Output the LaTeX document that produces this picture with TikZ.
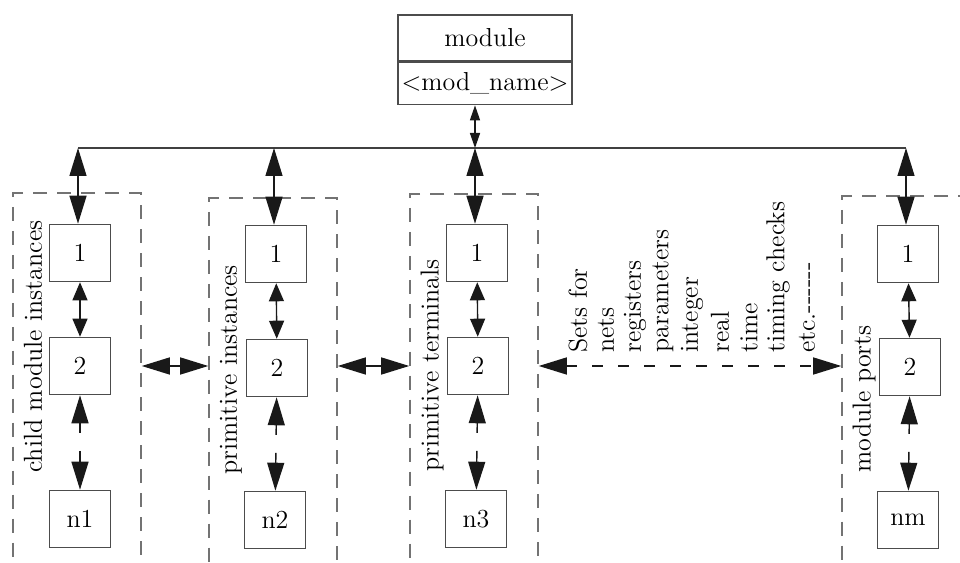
\documentclass[tikz,border=0pt]{standalone}
\usepackage{tikz}
\usetikzlibrary{arrows.meta,positioning}

\begin{document}
\begin{tikzpicture}[x=0.02cm, y=-0.02cm,
    every node/.style={font=\fontsize{14.8}{18}\selectfont},
    cell/.style={draw=black!70, line width=0.9pt, minimum width=1.22cm, minimum height=1.14cm, inner sep=0pt},
    modbox/.style={draw=black!70, line width=0.9pt, minimum width=3.48cm, inner sep=0pt},
    setbox/.style={draw=black!55, line width=0.9pt, dash pattern=on 0.28cm off 0.2cm,
                   minimum width=2.56cm, minimum height=9cm, anchor=north, inner sep=0pt},
    lbl/.style={rotate=90, anchor=west, inner sep=0pt},
    link/.style={draw=black!90, line width=0.8pt},
    bigarr/.style={link, arrows={Triangle[length=0.56cm,width=0.34cm]-Triangle[length=0.56cm,width=0.34cm]}},
    smallarr/.style={link, arrows={Triangle[length=0.36cm,width=0.3cm]-Triangle[length=0.36cm,width=0.3cm]}},
    tinyarr/.style={link, arrows={Triangle[length=0.3cm,width=0.2cm]-Triangle[length=0.3cm,width=0.2cm]}},
    gaparr/.style={bigarr, dash pattern=on 0.2cm off 0.36cm on 2cm}
]
    \useasboundingbox (0,0) rectangle (960,563);
    \clip (0,0) rectangle (960,563);

    \node[modbox, minimum height=0.92cm] (modtop) at (485,38) {module};
    \node[modbox, minimum height=0.84cm, below=0pt of modtop] (modname) {\textless mod\_name\textgreater};

    \node[setbox] (grp1) at (77,192) {};
    \node[setbox] (grp2) at (273,197) {};
    \node[setbox] (grp3) at (474,193) {};
    \node[setbox] (grp4) at (906,195) {};

    \node[cell] (c1a) at (80,253) {1};
    \node[cell] (c1b) at (80,366) {2};
    \node[cell] (c1n) at (80,519) {n1};
    \node[cell] (c2a) at (276,254) {1};
    \node[cell] (c2b) at (277,368) {2};
    \node[cell] (c2n) at (275,520) {n2};
    \node[cell] (c3a) at (477,253) {1};
    \node[cell] (c3b) at (478,366) {2};
    \node[cell] (c3n) at (476,519) {n3};
    \node[cell] (c4a) at (908,254) {1};
    \node[cell] (c4b) at (910,367) {2};
    \node[cell] (c4n) at (908,520) {nm};

    \node[lbl] (l1) at (33,473) {child module instances};
    \node[lbl] (l2) at (231,475) {primitive instances};
    \node[lbl] (l3) at (432,472) {primitive terminals};
    \node[lbl] (l4) at (864,473) {module ports};

    \node[lbl] (s1) at (578,353) {Sets for};
    \node[lbl] (s2) at (606,353) {nets};
    \node[lbl] (s3) at (635,353) {registers};
    \node[lbl] (s4) at (663,353) {parameters};
    \node[lbl] (s5) at (692,353) {integer};
    \node[lbl] (s6) at (720,353) {real};
    \node[lbl] (s7) at (749,353) {time};
    \node[lbl] (s8) at (778,353) {timing checks};
    \node[lbl] (s9) at (807,353) {etc.-{}-{}-{}-{}-{}-};

    \coordinate (bus1) at (78,148);
    \coordinate (bus2) at (274,148);
    \coordinate (bus3) at (475,148);
    \coordinate (bus4) at (906,148);

    \draw[link, draw=black!75, line width=1.1pt] (bus1) -- (bus4);
    \draw[tinyarr] (bus3) -- (bus3 |- modname.south);

    \draw[bigarr] (bus1) -- (bus1 |- c1a.north);
    \draw[bigarr] (bus2) -- (bus2 |- c2a.north);
    \draw[bigarr] (bus3) -- (bus3 |- c3a.north);
    \draw[bigarr] (bus4) -- (bus4 |- c4a.north);

    \draw[smallarr] (c1a) -- (c1b);
    \draw[smallarr] (c2a) -- (c2b);
    \draw[smallarr] (c3a) -- (c3b);
    \draw[smallarr] (c4a) -- (c4b);

    \draw[gaparr] (c1b) -- (c1n);
    \draw[gaparr] (c2b) -- (c2n);
    \draw[gaparr] (c3b) -- (c3n);
    \draw[gaparr] (c4b) -- (c4n);

    \draw[bigarr] (grp1.east |- c1b) -- (grp2.west |- c1b);
    \draw[bigarr] (grp2.east |- c1b) -- (grp3.west |- c1b);
    \draw[bigarr, dash pattern=on 0.22cm off 0.3cm] (grp3.east |- c1b) -- (grp4.west |- c1b);
\end{tikzpicture}
\end{document}
